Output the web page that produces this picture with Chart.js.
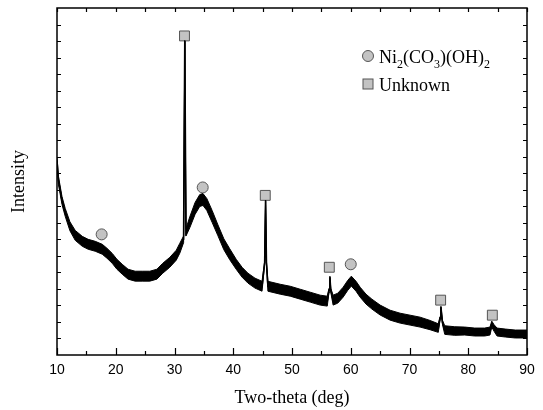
<!DOCTYPE html>
<html>
<head>
<meta charset="utf-8">
<script src="https://cdn.jsdelivr.net/npm/chart.js@4.4.1/dist/chart.umd.min.js"></script>
<style>
  body { margin: 0; background: #fff; }
  #wrap { width: 543px; height: 410px; }
</style>
</head>
<body>
<div id="wrap"><canvas id="xrd" width="543" height="410"></canvas></div>
<script>
// XRD pattern: centre of the noisy trace and half-height of its band
const twoTheta = [10.0, 10.25, 10.85, 11.4, 12.2, 13.1, 14.3, 15.3, 16.5, 17.7, 18.5, 19.4, 20.2, 21.1, 22.1, 23.3, 24.6, 25.8, 27.0, 28.0,
  29.2, 30.3, 30.9, 31.55, 31.75, 31.95, 32.6, 33.5, 34.3, 34.85, 35.5, 36.4, 37.4, 38.4, 39.4, 40.5, 41.5, 42.5,
  43.7, 44.9, 45.35, 45.5, 45.65, 45.9, 48.0, 49.7, 51.4, 53.1, 54.8, 56.0, 56.3, 56.45, 56.6, 57.0, 57.8, 58.7, 59.5, 60.1,
  60.9, 61.6, 62.6, 63.6, 65.0, 66.7, 68.4, 70.1, 71.8, 73.5, 74.9, 75.2, 75.35, 75.6, 76.0, 77.7, 79.4, 81.1, 82.8, 83.7,
  84.0, 84.4, 84.9, 86.3, 88.0, 90.0];
const intensity = [1177, 1056, 935, 863, 779, 724, 688, 670, 658, 640, 616, 585, 549, 519, 489, 477, 477, 477, 489, 525,
  561, 604, 646, 700, 1901, 742, 803, 887, 935, 941, 911, 839, 754, 670, 610, 549, 501, 465,
  435, 416, 560, 935, 560, 416, 398, 386, 368, 350, 332, 326, 392, 471, 392, 332, 344, 380, 422, 447,
  416, 380, 338, 308, 272, 241, 223, 211, 199, 181, 163, 223, 290, 199, 151, 145, 145, 139, 139, 145,
  187, 163, 139, 133, 127, 127];
const spread = [18, 24, 24, 24, 27, 30, 30, 30, 30, 30, 30, 30, 30, 30, 30, 30, 30, 30, 30, 30,
  30, 30, 30, 20, 3, 22, 33, 36, 36, 36, 36, 36, 33, 33, 33, 30, 30, 30,
  30, 30, 8, 3, 8, 30, 30, 30, 30, 30, 30, 30, 12, 6, 12, 30, 30, 30, 30, 30,
  30, 30, 30, 30, 30, 30, 30, 30, 30, 28, 26, 10, 5, 12, 26, 26, 24, 24, 24, 24,
  18, 20, 24, 24, 24, 24];

// phase markers
const niX = [17.6, 34.8, 60.0];
const niY = [730, 1014, 549];
const unkX = [31.7, 45.45, 56.35, 75.3, 84.1];
const unkY = [1931, 966, 531, 332, 241];

const xTicks = [10, 20, 30, 40, 50, 60, 70, 80, 90];

const markFill = "#c3c3c3";
const markEdge = "#555555";

const upper = twoTheta.map((x, i) => ({ x: x, y: intensity[i] + spread[i] }));
const lower = twoTheta.map((x, i) => ({ x: x, y: intensity[i] - spread[i] }));
const centre = twoTheta.map((x, i) => ({ x: x, y: intensity[i] }));

// frame with inward ticks on all four sides, like the original plot
const framePlugin = {
  id: "frame",
  afterDatasetsDraw(chart) {
    const c = chart.ctx;
    const a = chart.chartArea;
    const xs = chart.scales.x;
    const ys = chart.scales.y;
    c.save();
    c.strokeStyle = "#000";
    c.lineWidth = 1.5;
    c.strokeRect(a.left, a.top, a.right - a.left, a.bottom - a.top);
    c.lineWidth = 1.2;
    c.beginPath();
    for (let v = 10; v <= 90; v += 5) {
      const px = Math.round(xs.getPixelForValue(v)) + 0.5;
      const len = v % 10 === 0 ? 7 : 4;
      c.moveTo(px, a.bottom); c.lineTo(px, a.bottom - len);
      c.moveTo(px, a.top); c.lineTo(px, a.top + 4);
    }
    for (let v = 100; v < 2100; v += 100) {
      const py = Math.round(ys.getPixelForValue(v)) + 0.5;
      c.moveTo(a.left, py); c.lineTo(a.left + 4, py);
      c.moveTo(a.right, py); c.lineTo(a.right - 4, py);
    }
    c.stroke();
    c.restore();
  }
};

// legend with subscripts
const legendPlugin = {
  id: "phaseLegend",
  afterDraw(chart) {
    const c = chart.ctx;
    const a = chart.chartArea;
    const sx = a.right - 159;
    const tx = sx + 11;
    c.save();
    c.fillStyle = markFill;
    c.strokeStyle = markEdge;
    c.lineWidth = 1;
    c.beginPath();
    c.arc(sx, a.top + 48, 5.5, 0, Math.PI * 2);
    c.fill(); c.stroke();
    c.fillRect(sx - 5, a.top + 71, 10, 10);
    c.strokeRect(sx - 5, a.top + 71, 10, 10);

    c.fillStyle = "#000";
    c.textBaseline = "alphabetic";
    const base1 = a.top + 55;
    const parts = [["Ni", 0], ["2", 1], ["(CO", 0], ["3", 1], [")(OH)", 0], ["2", 1]];
    let x = tx;
    parts.forEach(p => {
      c.font = p[1] ? "12px 'Liberation Serif', 'Times New Roman', serif" : "18px 'Liberation Serif', 'Times New Roman', serif";
      c.fillText(p[0], x, base1 + (p[1] ? 5 : 0));
      x += c.measureText(p[0]).width;
    });
    c.font = "18px 'Liberation Serif', 'Times New Roman', serif";
    c.fillText("Unknown", tx, a.top + 83);
    c.restore();
  }
};

const serif = "'Liberation Serif', 'Times New Roman', serif";

new Chart(document.getElementById("xrd"), {
  type: "line",
  data: {
    datasets: [
      { label: "upper", data: upper, borderColor: "#000", borderWidth: 1, backgroundColor: "#000",
        fill: "+1", pointRadius: 0, tension: 0 },
      { label: "lower", data: lower, borderColor: "#000", borderWidth: 1, pointRadius: 0, fill: false, tension: 0 },
      { label: "centre", data: centre, borderColor: "#000", borderWidth: 1.6, pointRadius: 0, fill: false, tension: 0 },
      { label: "Ni2(CO3)(OH)2", type: "scatter",
        data: niX.map((x, i) => ({ x: x, y: niY[i] })),
        pointStyle: "circle", pointRadius: 5.5, backgroundColor: markFill, borderColor: markEdge, borderWidth: 1 },
      { label: "Unknown", type: "scatter",
        data: unkX.map((x, i) => ({ x: x, y: unkY[i] })),
        pointStyle: "rect", pointRadius: 7, backgroundColor: markFill, borderColor: markEdge, borderWidth: 1 }
    ]
  },
  options: {
    responsive: false,
    animation: false,
    layout: { padding: { top: 7, right: 16, left: 0, bottom: 0 } },
    scales: {
      x: {
        type: "linear",
        min: 10,
        max: 90,
        afterBuildTicks: s => { s.ticks = xTicks.map(v => ({ value: v })); },
        afterFit: s => { s.height = 55; },
        grid: { display: false, drawTicks: false },
        border: { display: false },
        ticks: {
          color: "#000",
          padding: 7,
          font: { family: "'Liberation Sans', Arial, sans-serif", size: 14 }
        },
        title: {
          display: true,
          text: "Two-theta (deg)",
          color: "#000",
          padding: { top: 0, bottom: 1 },
          font: { family: serif, size: 18 }
        }
      },
      y: {
        min: 0,
        max: 2100,
        afterFit: s => { s.width = 57; },
        grid: { display: false, drawTicks: false },
        border: { display: false },
        ticks: { display: false },
        title: {
          display: true,
          text: "Intensity",
          color: "#000",
          padding: { top: 8, bottom: 0 },
          font: { family: serif, size: 18 }
        }
      }
    },
    plugins: {
      legend: { display: false },
      tooltip: { enabled: false }
    }
  },
  plugins: [framePlugin, legendPlugin]
});
</script>
</body>
</html>
